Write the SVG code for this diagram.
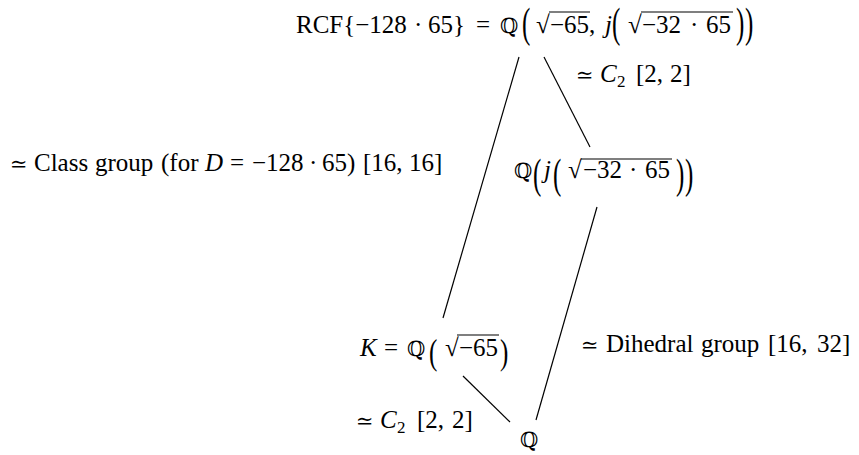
<svg xmlns="http://www.w3.org/2000/svg" width="859" height="455" viewBox="0 0 859 455">
<style>
text{font-family:'Liberation Serif','Times New Roman',Times,serif;font-size:25px;fill:#000}
.i{font-style:italic}
.q{font-family:'DejaVu Serif','DejaVu Sans',serif;font-size:21px}
.s{font-family:'DejaVu Serif','Liberation Serif',serif;font-size:21px}
.sub{font-size:17px}
.ln{stroke:#000;stroke-width:1.2;fill:none}
.ov{stroke:#000;stroke-width:1.1}
</style>
<rect width="859" height="455" fill="#fff"/>
<g id="connectors">
<line class="ln" x1="519" y1="57" x2="443" y2="318"/>
<line class="ln" x1="544" y1="57" x2="590" y2="147"/>
<line class="ln" x1="597" y1="207" x2="536" y2="420"/>
<line class="ln" x1="463" y1="376" x2="510" y2="422"/>
</g>
<g id="node-rcf">
<text y="33"><tspan x="296">RCF{−128</tspan><tspan x="414">·</tspan><tspan x="428">65}</tspan><tspan x="476">=</tspan></text>
<text class="q" x="500" y="33">ℚ</text>
<text transform="translate(522,36.5) scale(1,1.67)">(</text>
<text y="33"><tspan x="536">√</tspan><tspan x="550">−65,</tspan><tspan class="i" x="605">j</tspan></text>
<text transform="translate(612,36.5) scale(1,1.67)">(</text>
<text y="33"><tspan x="628">√</tspan><tspan x="642">−32</tspan><tspan x="690">·</tspan><tspan x="706">65</tspan></text>
<text transform="translate(736,36.5) scale(1,1.67)">)</text>
<text transform="translate(745,36.5) scale(1,1.67)">)</text>
<line class="ov" x1="549" y1="12" x2="590" y2="12"/>
<line class="ov" x1="641" y1="12" x2="733" y2="12"/>
</g>
<g id="node-mid">
<text class="q" x="514" y="178">ℚ</text>
<text transform="translate(533,188) scale(1,1.67)">(</text>
<text class="i" x="544" y="178">j</text>
<text transform="translate(553,188) scale(1,1.67)">(</text>
<text y="178"><tspan x="568">√</tspan><tspan x="583">−32</tspan><tspan x="629">·</tspan><tspan x="645">65</tspan></text>
<text transform="translate(676,188) scale(1,1.67)">)</text>
<text transform="translate(685,188) scale(1,1.67)">)</text>
<line class="ov" x1="581" y1="159" x2="672" y2="159"/>
</g>
<g id="node-k">
<text class="i" x="360" y="356">K</text>
<text x="384" y="356">=</text>
<text class="q" x="407" y="356">ℚ</text>
<text transform="translate(429,364) scale(1,1.4)">(</text>
<text y="356"><tspan x="445">√</tspan><tspan x="459">−65</tspan></text>
<text transform="translate(500,364) scale(1,1.4)">)</text>
<line class="ov" x1="457" y1="335" x2="499" y2="335"/>
</g>
<g id="node-q">
<text class="q" x="520" y="447">ℚ</text>
</g>
<g id="labels">
<text y="82"><tspan class="s" x="576">≃</tspan><tspan class="i" x="600">C</tspan><tspan class="sub" x="617" dy="5">2</tspan><tspan x="636" dy="-5">[2,</tspan><tspan x="670">2]</tspan></text>
<text y="171"><tspan class="s" x="10">≃</tspan><tspan x="34">Class</tspan><tspan x="95">group</tspan><tspan x="161">(for</tspan><tspan class="i" x="205">D</tspan><tspan x="230">=</tspan><tspan x="252">−128</tspan><tspan x="309">·</tspan><tspan x="322">65)</tspan><tspan x="363">[16,</tspan><tspan x="409">16]</tspan></text>
<text y="352"><tspan class="s" x="581">≃</tspan><tspan x="606">Dihedral</tspan><tspan x="701">group</tspan><tspan x="768">[16,</tspan><tspan x="817">32]</tspan></text>
<text y="428"><tspan class="s" x="356">≃</tspan><tspan class="i" x="380">C</tspan><tspan class="sub" x="397" dy="5">2</tspan><tspan x="417" dy="-5">[2,</tspan><tspan x="452">2]</tspan></text>
</g>
</svg>
